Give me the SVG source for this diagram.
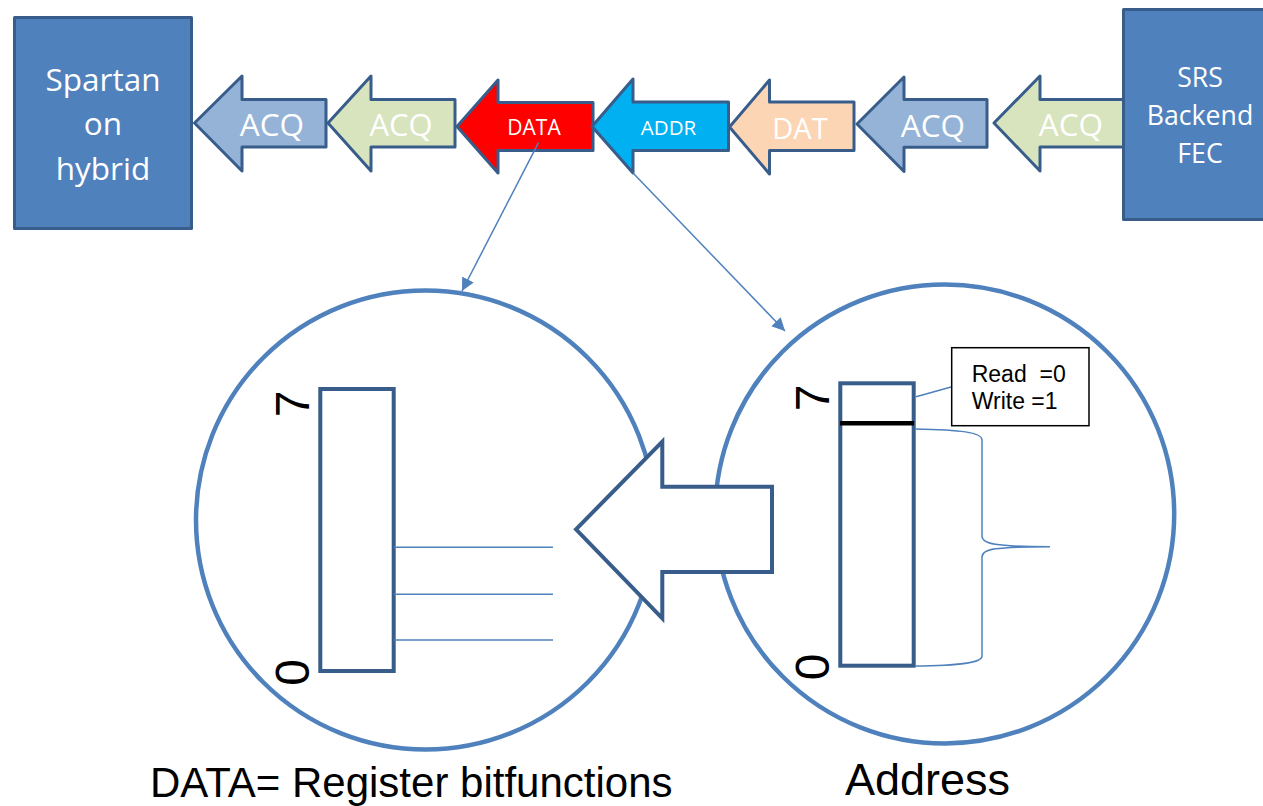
<svg xmlns="http://www.w3.org/2000/svg" width="1263" height="806" viewBox="0 0 1263 806">
  <style>
    .box { fill: #4F81BD; stroke: #385D8A; stroke-width: 3; stroke-linejoin: round; }
    .flow { stroke: #385D8A; stroke-width: 3; stroke-linejoin: round; }
    .wt { fill: #FFFFFF; font-family: "Open Sans", "Noto Sans", sans-serif; text-anchor: middle; }
    .ring { fill: #FFFFFF; stroke: #4F81BD; stroke-width: 4.5; }
    .reg { fill: #FFFFFF; stroke: #385D8A; stroke-width: 4; }
    .thin { fill: none; stroke: #4F81BD; stroke-width: 1.5; }
    .bit { fill: #000000; font-family: "Liberation Sans", Arial, sans-serif; font-size: 48px; text-anchor: middle; }
    .cap { fill: #000000; font-family: "Liberation Sans", Arial, sans-serif; }
  </style>
  <defs>
    <marker id="head" markerUnits="userSpaceOnUse" markerWidth="16" markerHeight="14" refX="13" refY="6.5" orient="auto">
      <path d="M0,0 L13,6.5 L0,13 z" fill="#4F81BD"/>
    </marker>
  </defs>

  <rect width="1263" height="806" fill="#FFFFFF"/>

  <!-- top chain of packet arrows -->
  <g id="node-acq-1">
    <polygon class="flow" fill="#95B3D7" points="194.5,123 242,76 242,99.5 326,99.5 326,147 242,147 242,171"/>
    <text class="wt" x="272" y="136" font-size="31.5">ACQ</text>
  </g>
  <g id="node-acq-2">
    <polygon class="flow" fill="#D7E4BD" points="328,123 371,76 371,99.5 455,99.5 455,147 371,147 371,171"/>
    <text class="wt" x="401" y="136" font-size="31">ACQ</text>
  </g>
  <g id="node-data">
    <polygon class="flow" fill="#FF0000" points="457,126.5 498,80 498,102.5 593,102.5 593,150.5 498,150.5 498,173"/>
    <text class="wt" x="534" y="135" font-size="21">DATA</text>
  </g>
  <g id="node-addr">
    <polygon class="flow" fill="#00B0F0" points="592,126.5 633,79 633,102 728.5,102 728.5,150.5 633,150.5 633,173"/>
    <text class="wt" x="668.5" y="135" font-size="20.5">ADDR</text>
  </g>
  <g id="node-dat">
    <polygon class="flow" fill="#FCD5B5" points="729.5,127 769.5,80 769.5,102 854,102 854,150.5 769.5,150.5 769.5,174"/>
    <text class="wt" x="800" y="139" font-size="29">DAT</text>
  </g>
  <g id="node-acq-3">
    <polygon class="flow" fill="#95B3D7" points="857,124 904,77 904,99.5 987,99.5 987,147.3 904,147.3 904,171.5"/>
    <text class="wt" x="933" y="137" font-size="31.5">ACQ</text>
  </g>
  <g id="node-acq-4">
    <polygon class="flow" fill="#D7E4BD" points="994,123 1040,76 1040,99.5 1124,99.5 1124,147 1040,147 1040,171"/>
    <text class="wt" x="1071" y="136" font-size="31.5">ACQ</text>
  </g>

  <!-- end points -->
  <g id="node-spartan">
    <rect class="box" x="14.5" y="17.5" width="177" height="211"/>
    <text class="wt" font-size="31.5"><tspan x="103" y="91">Spartan</tspan><tspan x="103" y="135">on</tspan><tspan x="103" y="180">hybrid</tspan></text>
  </g>
  <g id="node-srs">
    <rect class="box" x="1123.5" y="9.5" width="160" height="210"/>
    <text class="wt" font-size="26.7"><tspan x="1200" y="87">SRS</tspan><tspan x="1200" y="125">Backend</tspan><tspan x="1200" y="163">FEC</tspan></text>
  </g>

  <!-- DATA detail: register bit functions -->
  <g id="node-data-register">
    <circle class="ring" cx="425.5" cy="520" r="229.5"/>
    <rect class="reg" x="320.3" y="389" width="73.4" height="282"/>
    <line class="thin" x1="394" y1="547.3" x2="553" y2="547.3"/>
    <line class="thin" x1="394" y1="594.3" x2="553" y2="594.3"/>
    <line class="thin" x1="394" y1="640" x2="553" y2="640"/>
    <text class="bit" transform="translate(309,404) rotate(-90)">7</text>
    <text class="bit" transform="translate(309,672.5) rotate(-90)">0</text>
  </g>

  <!-- ADDR detail: address byte with read/write bit -->
  <g id="node-addr-register">
    <circle class="ring" cx="944.7" cy="514" r="229.5"/>
    <rect class="reg" x="840.3" y="383.3" width="73.4" height="282.4"/>
    <line x1="840" y1="423.3" x2="914" y2="423.3" stroke="#000000" stroke-width="4.5"/>
    <text class="bit" transform="translate(829,398) rotate(-90)">7</text>
    <text class="bit" transform="translate(829,667) rotate(-90)">0</text>
    <path class="thin" d="M915,429 C960,430 982,432 982,440 L982,536 C982,544 995,546.7 1050,546.7 C995,546.7 982,549 982,557 L982,656 C982,663 960,665.5 915,666"/>
    <line class="thin" x1="916" y1="396.7" x2="952" y2="386.7"/>
    <rect x="951.7" y="347.7" width="137.3" height="78" fill="#FFFFFF" stroke="#000000" stroke-width="1.5"/>
    <text class="cap" font-size="23" xml:space="preserve"><tspan x="971.7" y="381.7">Read  =0</tspan><tspan x="971.7" y="409.3">Write =1</tspan></text>
  </g>

  <!-- hollow transfer arrow between the two details -->
  <g id="node-transfer">
    <polygon points="576,529.3 662.3,441.7 662.3,486.7 772,486.7 772,572 662.3,572 662.3,618.3" fill="#FFFFFF" stroke="#385D8A" stroke-width="4" stroke-linejoin="miter"/>
  </g>

  <!-- captions -->
  <g id="captions">
    <text class="cap" x="150" y="797" font-size="42">DATA= Register bitfunctions</text>
    <text class="cap" x="845" y="795" font-size="45">Address</text>
  </g>

  <!-- connectors from the packets to their detail views -->
  <g id="connectors">
    <line class="thin" x1="538.5" y1="142.7" x2="462" y2="291" marker-end="url(#head)"/>
    <line class="thin" x1="633" y1="173" x2="785" y2="331" marker-end="url(#head)"/>
  </g>
</svg>
